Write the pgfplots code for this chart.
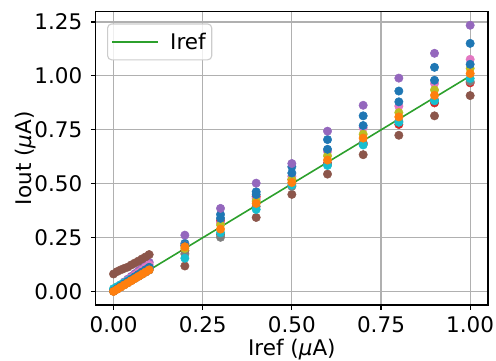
\documentclass[border=0pt]{standalone}
\usepackage{fontspec}
\setmainfont{DejaVu Sans}
\usepackage{pgfplots}
\pgfplotsset{compat=1.18}
\definecolor{C0}{HTML}{1F77B4}
\definecolor{C1}{HTML}{FF7F0E}
\definecolor{C2}{HTML}{2CA02C}
\definecolor{C3}{HTML}{D62728}
\definecolor{C4}{HTML}{9467BD}
\definecolor{C5}{HTML}{8C564B}
\definecolor{C6}{HTML}{E377C2}
\definecolor{C7}{HTML}{7F7F7F}
\definecolor{C8}{HTML}{BCBD22}
\definecolor{C9}{HTML}{17BECF}
\definecolor{gridc}{HTML}{B0B0B0}
\definecolor{legc}{HTML}{CCCCCC}
\newcommand{\bigfont}{\fontsize{21.5}{25}\selectfont}
\pgfplotsset{
  dot/.style={only marks, mark=*, mark size=4.2pt, mark options={draw=#1, fill=#1, line width=0.5pt}, forget plot}
}
\begin{document}
\begin{tikzpicture}
\useasboundingbox (-95.7pt,-55pt) rectangle (400.3pt,305pt);
\begin{axis}[
  at={(0,0)}, anchor=south west,
  scale only axis, width=392.3pt, height=293.3pt,
  xmin=-0.05, xmax=1.05, ymin=-0.0618, ymax=1.2978,
  xtick={0,0.25,0.5,0.75,1}, ytick={0,0.25,0.5,0.75,1,1.25},
  /pgf/number format/assume math mode=true,
  /pgf/number format/.cd, fixed, fixed zerofill, precision=2, /pgfplots/.cd,
  tick label style={font=\bigfont},
  yticklabel style={xshift=-5pt},
  xticklabel style={yshift=-3pt},
  grid=major, major grid style={gridc, line width=1.1pt},
  axis line style={black, line width=1.1pt},
  tick style={black, line width=1.1pt}, major tick length=4.9pt,
  tick align=outside, xtick pos=bottom, ytick pos=left,
  xlabel={Iref ({\itshape μ}A)}, ylabel={Iout ({\itshape μ}A)},
  label style={font=\bigfont},
  xlabel style={at={(axis description cs:0.5,0)}, anchor=base, yshift=-50pt},
  ylabel style={at={(axis description cs:-0.1624,0.5)}, anchor=base},
  legend style={at={(0.029,0.960)}, anchor=north west, draw=legc, line width=1.1pt, rounded corners=4pt, fill=white, fill opacity=0.8, draw opacity=1, text opacity=1, font=\bigfont, inner xsep=4pt, inner ysep=7pt},
  legend image code/.code={\draw[#1] (0pt,0pt) -- (46pt,0pt);},
  legend cell align=left,
]
% blue 1
\addplot[dot=C0] coordinates {(0,0.004)(0.01,0.0152)(0.02,0.0264)(0.03,0.0376)(0.04,0.0488)(0.05,0.06)(0.06,0.0712)(0.07,0.0824)(0.08,0.0936)(0.09,0.1048)(0.1,0.116)
 (0.2,0.224)(0.3,0.358)(0.4,0.463)(0.5,0.579)(0.6,0.705)(0.7,0.815)(0.8,0.930)(0.9,1.040)(1.0,1.151)};
% red
\addplot[dot=C3] coordinates {(0,0.003)(0.01,0.0135)(0.02,0.024)(0.03,0.0345)(0.04,0.045)(0.05,0.0555)(0.06,0.066)(0.07,0.0765)(0.08,0.087)(0.09,0.0975)(0.1,0.108)
 (0.2,0.190)(0.3,0.329)(0.4,0.440)(0.5,0.520)(0.6,0.595)(0.7,0.685)(0.8,0.775)(0.9,0.875)(1.0,0.968)};
% purple
\addplot[dot=C4] coordinates {(0,0.006)(0.01,0.019)(0.02,0.032)(0.03,0.045)(0.04,0.058)(0.05,0.071)(0.06,0.084)(0.07,0.097)(0.08,0.110)(0.09,0.123)(0.1,0.136)
 (0.2,0.262)(0.3,0.386)(0.4,0.503)(0.5,0.594)(0.6,0.744)(0.7,0.864)(0.8,0.990)(0.9,1.105)(1.0,1.235)};
% brown
\addplot[dot=C5] coordinates {(0,0.082)(0.01,0.093)(0.02,0.101)(0.03,0.108)(0.04,0.114)(0.05,0.124)(0.06,0.133)(0.07,0.142)(0.08,0.152)(0.09,0.161)(0.1,0.172)
 (0.2,0.119)(0.3,0.265)(0.4,0.344)(0.5,0.451)(0.6,0.545)(0.7,0.635)(0.8,0.725)(0.9,0.815)(1.0,0.909)};
% pink
\addplot[dot=C6] coordinates {(0,0.005)(0.01,0.017)(0.02,0.029)(0.03,0.041)(0.04,0.053)(0.05,0.065)(0.06,0.077)(0.07,0.089)(0.08,0.101)(0.09,0.113)(0.1,0.125)
 (0.2,0.215)(0.3,0.320)(0.4,0.430)(0.5,0.535)(0.6,0.650)(0.7,0.760)(0.8,0.860)(0.9,0.965)(1.0,1.077)};
% gray
\addplot[dot=C7] coordinates {(0,0.002)(0.01,0.0118)(0.02,0.0216)(0.03,0.0314)(0.04,0.0412)(0.05,0.051)(0.06,0.0608)(0.07,0.0706)(0.08,0.0804)(0.09,0.0902)(0.1,0.100)
 (0.2,0.175)(0.3,0.252)(0.4,0.395)(0.5,0.488)(0.6,0.590)(0.7,0.690)(0.8,0.790)(0.9,0.890)(1.0,0.975)};
% olive
\addplot[dot=C8] coordinates {(0,0.004)(0.01,0.0148)(0.02,0.0256)(0.03,0.0364)(0.04,0.0472)(0.05,0.058)(0.06,0.0688)(0.07,0.0796)(0.08,0.0904)(0.09,0.1012)(0.1,0.112)
 (0.2,0.200)(0.3,0.310)(0.4,0.420)(0.5,0.520)(0.6,0.630)(0.7,0.730)(0.8,0.830)(0.9,0.935)(1.0,1.035)};
% cyan
\addplot[dot=C9] coordinates {(0,0.014)(0.01,0.0232)(0.02,0.0324)(0.03,0.0416)(0.04,0.0508)(0.05,0.060)(0.06,0.0692)(0.07,0.0784)(0.08,0.0876)(0.09,0.0968)(0.1,0.106)
 (0.2,0.155)(0.3,0.273)(0.4,0.381)(0.5,0.494)(0.6,0.585)(0.7,0.680)(0.8,0.785)(0.9,0.885)(1.0,0.988)};
% blue 2
\addplot[dot=C0] coordinates {(0,0.003)(0.01,0.014)(0.02,0.025)(0.03,0.036)(0.04,0.047)(0.05,0.058)(0.06,0.069)(0.07,0.080)(0.08,0.091)(0.09,0.102)(0.1,0.113)
 (0.2,0.215)(0.3,0.340)(0.4,0.450)(0.5,0.550)(0.6,0.660)(0.7,0.770)(0.8,0.880)(0.9,0.980)(1.0,1.054)};
% orange
\addplot[dot=C1] coordinates {(0,0.001)(0.01,0.011)(0.02,0.021)(0.03,0.031)(0.04,0.041)(0.05,0.051)(0.06,0.061)(0.07,0.071)(0.08,0.081)(0.09,0.091)(0.1,0.101)
 (0.2,0.208)(0.3,0.290)(0.4,0.409)(0.5,0.506)(0.6,0.610)(0.7,0.712)(0.8,0.810)(0.9,0.910)(1.0,1.011)};
% Iref line
\addplot[C2, line width=1.6pt] coordinates {(0,0)(1,1)};
\addlegendentry{\hspace{9pt}Iref}
\end{axis}
\end{tikzpicture}
\end{document}
